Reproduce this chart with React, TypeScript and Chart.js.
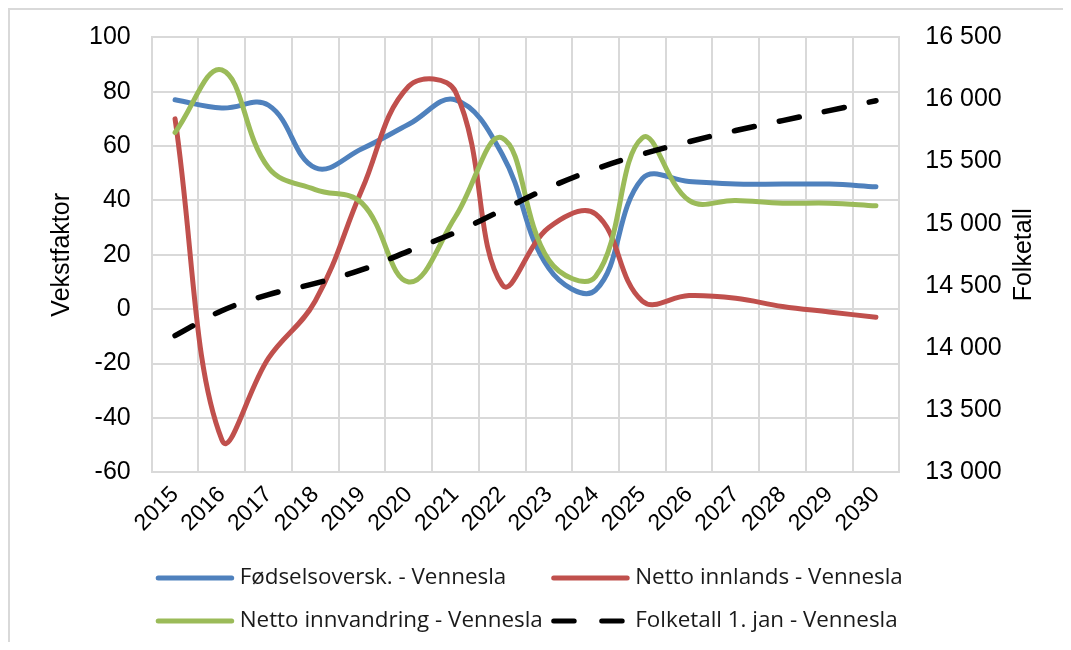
import React, { useEffect, useRef } from 'react';
import { Chart, registerables } from 'chart.js';

Chart.register(...registerables);

const years = ['2015', '2016', '2017', '2018', '2019', '2020', '2021', '2022', '2023', '2024', '2025', '2026', '2027', '2028', '2029', '2030'];
const fodselsoverskudd = [77, 74, 75, 52, 59, 68, 77, 57, 15, 7, 48, 47, 46, 46, 46, 45];
const nettoInnlands = [70, -48, -18, 3, 44, 82, 80, 9, 30, 35, 3, 5, 4, 1, -1, -3];
const nettoInnvandring = [65, 88, 52, 44, 39, 10, 34, 63, 18, 12, 63, 40, 40, 39, 39, 38];
const folketall = [14100, 14300, 14430, 14520, 14630, 14780, 14930, 15110, 15290, 15440, 15560, 15660, 15750, 15830, 15910, 15990];

const seriesNames = [
  'Fødselsoversk. - Vennesla',
  'Netto innlands - Vennesla',
  'Netto innvandring - Vennesla',
  'Folketall 1. jan - Vennesla',
];
const leftTitle = 'Vekstfaktor';
const rightTitle = 'Folketall';

const leftMin = -60;
const leftMax = 100;
const leftStep = 20;
const rightMin = 13000;
const rightMax = 16500;
const rightStep = 500;

const GRID = '#d9d9d9';
const FONT = "'Liberation Sans', Arial, sans-serif";
const LEGEND_FONT = "'Open Sans', sans-serif";

function formatThousands(v: number): string {
  const s = Math.round(v).toString();
  return s.replace(/\B(?=(\d{3})+(?!\d))/g, ' ');
}

const titlesPlugin = {
  id: 'axisTitles',
  afterDraw(chart: any) {
    const { ctx, chartArea } = chart;
    const cy = (chartArea.top + chartArea.bottom) / 2;
    ctx.save();
    ctx.fillStyle = '#000';
    ctx.font = `25px ${FONT}`;
    ctx.textAlign = 'center';
    ctx.textBaseline = 'middle';
    [[52, leftTitle], [1014, rightTitle]].forEach(([x, t]) => {
      ctx.save();
      ctx.translate(x as number, cy);
      ctx.rotate(-Math.PI / 2);
      ctx.fillText(t as string, 0, 0);
      ctx.restore();
    });
    ctx.restore();
  },
};

const legendPlugin = {
  id: 'gridLegend',
  afterDraw(chart: any) {
    const { ctx, chartArea } = chart;
    const colX = [chartArea.left + 4, chartArea.left + 399.5];
    const rowY = [chartArea.bottom + 105.7, chartArea.bottom + 148.7];
    ctx.save();
    ctx.font = `22.4px ${LEGEND_FONT}`;
    ctx.textBaseline = 'middle';
    ctx.textAlign = 'left';
    chart.data.datasets.forEach((ds: any, i: number) => {
      const x = colX[i % 2];
      const y = rowY[Math.floor(i / 2)];
      ctx.strokeStyle = ds.borderColor;
      ctx.lineWidth = 5;
      ctx.lineCap = 'round';
      ctx.beginPath();
      if (ds.borderDash && ds.borderDash.length) {
        ctx.setLineDash([20.5, 27.5]);
        ctx.moveTo(x + 2.5, y);
        ctx.lineTo(x + 71, y);
      } else {
        ctx.setLineDash([]);
        ctx.moveTo(x + 2.5, y);
        ctx.lineTo(x + 76, y);
      }
      ctx.stroke();
      ctx.setLineDash([]);
      ctx.fillStyle = '#1a1a1a';
      ctx.fillText(ds.label, x + 84, y);
    });
    ctx.restore();
  },
};

export default function App() {
  const canvasRef = useRef<HTMLCanvasElement | null>(null);

  useEffect(() => {
    if (!canvasRef.current) return;
    const line = (label: string, data: number[], color: string, axis: string, order: number, extra: any = {}) => ({
      label,
      data,
      borderColor: color,
      backgroundColor: color,
      borderWidth: 5,
      pointRadius: 0,
      tension: 0.4,
      fill: false,
      borderCapStyle: 'round',
      borderJoinStyle: 'round',
      yAxisID: axis,
      order,
      ...extra,
    });
    const fitY = (w: number) => (s: any) => {
      s.width = w;
      s.paddingTop = 0;
      s.paddingBottom = 0;
    };
    const chart = new Chart(canvasRef.current, {
      type: 'line',
      data: {
        labels: years,
        datasets: [
          line(seriesNames[0], fodselsoverskudd, '#4F81BD', 'y', 4),
          line(seriesNames[1], nettoInnlands, '#C0504D', 'y', 3),
          line(seriesNames[2], nettoInnvandring, '#9BBB59', 'y', 2),
          line(seriesNames[3], folketall, '#000000', 'y1', 1, { borderDash: [20, 26], borderWidth: 5.5 }),
        ] as any,
      },
      options: {
        animation: false,
        responsive: true,
        maintainAspectRatio: false,
        events: [],
        layout: { padding: { top: 27.3, left: 0, right: 0, bottom: 0 } },
        plugins: {
          legend: { display: false },
          tooltip: { enabled: false },
        },
        scales: {
          x: {
            type: 'category',
            offset: true,
            grid: { offset: true, color: GRID, lineWidth: 2, drawTicks: false },
            border: { display: true, color: GRID, width: 2 },
            ticks: {
              autoSkip: false,
              minRotation: 45,
              maxRotation: 45,
              padding: 9,
              color: '#000',
              font: { family: FONT, size: 23 },
            },
            afterFit: (s: any) => { s.height = 169.7; },
          },
          y: {
            position: 'left',
            min: leftMin,
            max: leftMax,
            grid: { color: GRID, lineWidth: 2, drawTicks: false },
            border: { display: true, color: GRID, width: 2 },
            ticks: {
              stepSize: leftStep,
              padding: 21,
              color: '#000',
              font: { family: FONT, size: 25 },
            },
            afterFit: fitY(141.7),
          },
          y1: {
            position: 'right',
            min: rightMin,
            max: rightMax,
            grid: { drawOnChartArea: false, drawTicks: false, color: GRID },
            border: { display: true, color: GRID, width: 2 },
            ticks: {
              stepSize: rightStep,
              padding: 26,
              color: '#000',
              font: { family: FONT, size: 25 },
              callback: (v: any) => formatThousands(Number(v)),
            },
            afterFit: fitY(171.7),
          },
        },
      } as any,
      plugins: [titlesPlugin, legendPlugin],
    });
    return () => chart.destroy();
  }, []);

  return (
    <div style={{ borderTop: `2px solid ${GRID}`, borderLeft: `2px solid ${GRID}`, marginRight: -8, background: '#fff' }}>
      <div style={{ position: 'relative', width: '100%', height: 632 }}>
        <canvas ref={canvasRef} />
      </div>
    </div>
  );
}
